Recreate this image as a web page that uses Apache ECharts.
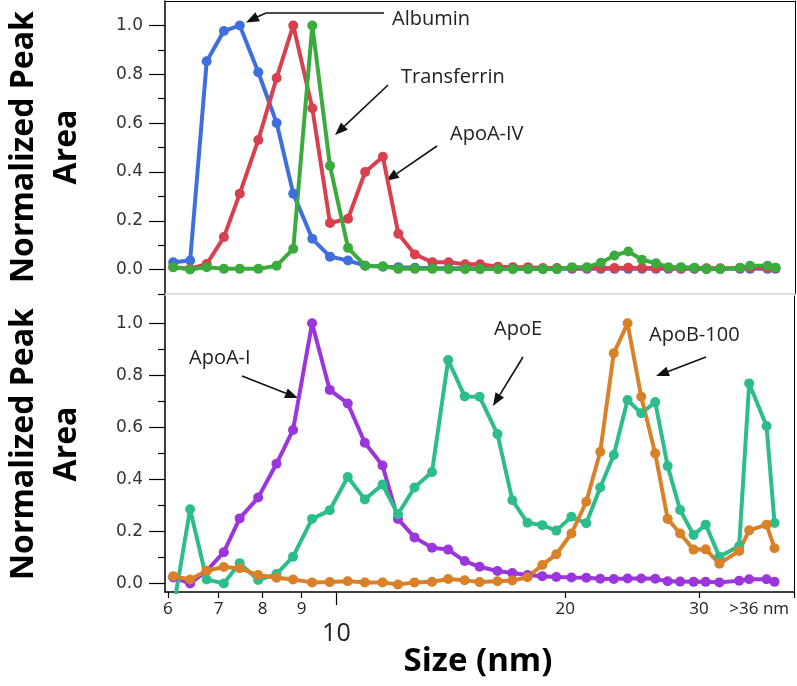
<!DOCTYPE html>
<html>
<head>
<meta charset="utf-8">
<script src="https://cdn.jsdelivr.net/npm/echarts@6/dist/echarts.min.js"></script>
<style>
html,body{margin:0;padding:0;background:#fff;}
#chart{width:797px;height:686px;}
</style>
</head>
<body>
<div id="chart"></div>
<script>
// ---- data (size in nm, normalized peak area) ----
const sizes = [6.10, 6.42, 6.75, 7.11, 7.46, 7.89, 8.34, 8.77, 9.29, 9.80,
  10.35, 10.90, 11.50, 12.05, 12.67, 13.36, 14.03, 14.75, 15.43, 16.29,
  17.04, 17.84, 18.66, 19.47, 20.38, 21.32, 22.24, 23.17, 24.16, 25.18,
  26.27, 27.28, 28.33, 29.51, 30.61, 31.91, 33.88, 34.92, 36.81, 37.71];

const albumin = [0.030, 0.037, 0.853, 0.977, 1.000, 0.808, 0.600, 0.311, 0.126, 0.053,
  0.037, 0.016, 0.012, 0.010, 0.008, 0.006, 0.005, 0.005, 0.004, 0.004,
  0.004, 0.003, 0.003, 0.003, 0.003, 0.003, 0.003, 0.003, 0.003, 0.003,
  0.003, 0.003, 0.003, 0.003, 0.003, 0.003, 0.003, 0.003, 0.003, 0.003];

const apoA4 = [0.010, 0.003, 0.023, 0.133, 0.311, 0.531, 0.785, 1.000, 0.661, 0.191,
  0.208, 0.400, 0.462, 0.147, 0.062, 0.030, 0.030, 0.022, 0.022, 0.012,
  0.010, 0.010, 0.006, 0.006, 0.006, 0.006, 0.006, 0.006, 0.008, 0.006,
  0.006, 0.006, 0.005, 0.005, 0.005, 0.005, 0.006, 0.008, 0.006, 0.005];

const transferrin = [0.010, 0.000, 0.010, 0.003, 0.003, 0.003, 0.016, 0.085, 1.000, 0.425,
  0.089, 0.016, 0.014, 0.003, 0.003, 0.003, 0.002, 0.002, 0.002, 0.002,
  0.002, 0.002, 0.002, 0.002, 0.010, 0.010, 0.028, 0.058, 0.074, 0.040,
  0.026, 0.010, 0.010, 0.008, 0.002, 0.002, 0.008, 0.016, 0.016, 0.008];

const apoA1 = [0.023, 0.000, 0.048, 0.120, 0.250, 0.330, 0.460, 0.590, 1.000, 0.744,
  0.692, 0.541, 0.453, 0.248, 0.177, 0.137, 0.130, 0.086, 0.064, 0.048,
  0.040, 0.032, 0.028, 0.025, 0.023, 0.022, 0.018, 0.017, 0.019, 0.019,
  0.018, 0.008, 0.007, 0.006, 0.006, 0.004, 0.010, 0.016, 0.016, 0.006];

const apoE = [-0.100, 0.285, 0.015, 0.000, 0.078, 0.013, 0.036, 0.103, 0.248, 0.281,
  0.409, 0.323, 0.380, 0.266, 0.369, 0.428, 0.859, 0.719, 0.718, 0.574,
  0.320, 0.233, 0.224, 0.203, 0.256, 0.231, 0.369, 0.494, 0.705, 0.654,
  0.697, 0.451, 0.282, 0.186, 0.226, 0.103, 0.144, 0.769, 0.605, 0.232];

const apoB100 = [0.028, 0.015, 0.049, 0.063, 0.058, 0.032, 0.022, 0.015, 0.004, 0.005,
  0.008, 0.004, 0.004, -0.004, 0.004, 0.006, 0.017, 0.012, 0.005, 0.008,
  0.011, 0.024, 0.071, 0.112, 0.192, 0.314, 0.506, 0.885, 1.000, 0.718,
  0.500, 0.248, 0.192, 0.130, 0.131, 0.076, 0.125, 0.204, 0.226, 0.135];

const xTickValues = [6, 7, 8, 9, 20, 30];
const xLabelValues = [6, 7, 8, 9, 20, 30, 36];
const xMajorTick = [10];
const yLabelValues = [0, 0.2, 0.4, 0.6, 0.8, 1.0];
const yMinorTop = [-0.1, 0.1, 0.3, 0.5, 0.7, 0.9];
const yMinorBottom = [0.1, 0.3, 0.5, 0.7, 0.9];

// ---- chart ----
const X_MIN = 5.95, X_MAX = 40;
const pair = (ys) => sizes.map((s, i) => [s, ys[i]]);

function lineSeries(name, ys, color, axisIdx) {
  return {
    name, type: 'line', data: pair(ys),
    xAxisIndex: axisIdx, yAxisIndex: axisIdx,
    symbol: 'circle', symbolSize: 10, showSymbol: true, showAllSymbol: true,
    clip: true,
    lineStyle: { color, width: 4 },
    itemStyle: { color, borderWidth: 0 },
    emphasis: { disabled: true },
    animation: false
  };
}

const blank = { show: false };
function logX(grid, pos, lineColor, extra) {
  return Object.assign({
    gridIndex: grid, type: 'log', logBase: 10, min: X_MIN, max: X_MAX, position: pos,
    axisLine: { show: true, onZero: false, lineStyle: { color: lineColor, width: 1.5 } },
    axisTick: blank, axisLabel: blank, splitLine: blank, minorTick: blank
  }, extra || {});
}
function valY(grid, pos, min, max, extra) {
  return Object.assign({
    gridIndex: grid, type: 'value', min, max, position: pos,
    axisLine: { show: true, onZero: false, lineStyle: { color: '#000', width: 1.5 } },
    axisTick: blank, axisLabel: blank, splitLine: blank
  }, extra || {});
}
const yLabel = {
  customValues: yLabelValues, margin: 22, fontSize: 17, color: '#333',
  fontFamily: 'DejaVu Sans', formatter: v => Number(v).toFixed(1)
};
const yTick = { show: true, customValues: yLabelValues, length: 16, inside: false, lineStyle: { color: '#000', width: 1.2 } };

function arrow(x1, y1, x2, y2) {
  const a = Math.atan2(y2 - y1, x2 - x1), L = 13, W = 5;
  const bx = x2 - L * Math.cos(a), by = y2 - L * Math.sin(a);
  const px = -Math.sin(a) * W, py = Math.cos(a) * W;
  return [
    { type: 'line', shape: { x1, y1, x2: bx, y2: by }, style: { stroke: '#111', lineWidth: 1.6 } },
    { type: 'polygon', shape: { points: [[x2, y2], [bx + px, by + py], [bx - px, by - py]] }, style: { fill: '#111' } }
  ];
}
function label(text, x, y) {
  return { type: 'text', x, y, style: { text, font: '20px "Open Sans"', fill: '#222', textAlign: 'left', textVerticalAlign: 'middle' } };
}
function vtitle(text, x, y) {
  return { type: 'text', x, y, rotation: Math.PI / 2,
    style: { text, font: 'bold 32px "Open Sans"', fill: '#000', textAlign: 'center', textVerticalAlign: 'middle' } };
}

const graphics = [].concat(
  [{ type: 'polyline', shape: { points: [[384, 13], [266, 13], [256, 17.5]] }, style: { stroke: '#111', lineWidth: 1.6, fill: null } }],
  arrow(256, 17.5, 246, 22.5),
  arrow(388, 85, 335, 135),
  arrow(437, 146, 386, 181),
  arrow(242, 376, 298, 398),
  arrow(523, 357, 493, 406),
  arrow(706, 357, 656, 376),
  [
    label('Albumin', 392, 19),
    label('Transferrin', 401, 77),
    label('ApoA-IV', 450, 134),
    label('ApoA-I', 189, 358),
    label('ApoE', 494, 329),
    label('ApoB-100', 649, 335),
    vtitle('Normalized Peak', 24, 147),
    vtitle('Area', 67, 147),
    vtitle('Normalized Peak', 24, 444),
    vtitle('Area', 67, 444),
    { type: 'text', x: 478, y: 662, style: { text: 'Size (nm)', font: 'bold 33px "Open Sans"', fill: '#000', textAlign: 'center', textVerticalAlign: 'middle' } }
  ]
);

const option = {
  backgroundColor: '#fff',
  animation: false,
  grid: [
    { left: 165, top: 1, width: 630, height: 293 },
    { left: 165, top: 296, width: 629, height: 296 }
  ],
  xAxis: [
    logX(0, 'bottom', '#d4d4d4'),
    logX(0, 'top', '#000', { axisLine: { show: true, onZero: false, lineStyle: { color: '#000', width: 1 } } }),
    logX(1, 'bottom', '#000', {
      axisTick: { show: true, customValues: xTickValues.concat([39.99]), length: 6, lineStyle: { color: '#000', width: 1.2 } },
      axisLabel: {
        show: true, customValues: xLabelValues, margin: 9, fontSize: 17, color: '#222', fontFamily: 'Open Sans',
        formatter: v => (v > 35 ? '>36 nm' : String(Math.round(v)))
      }
    }),
    logX(1, 'bottom', '#000', {
      axisLine: { show: false, onZero: false },
      axisTick: { show: true, customValues: xMajorTick, length: 13, lineStyle: { color: '#000', width: 1.2 } },
      axisLabel: { show: true, customValues: xMajorTick, margin: 29, fontSize: 25, color: '#222', fontFamily: 'Open Sans', formatter: v => String(Math.round(v)) }
    })
  ],
  yAxis: [
    valY(0, 'left', -0.1, 1.1, { axisTick: yTick, axisLabel: yLabel }),
    valY(0, 'right', -0.1, 1.1, { axisLine: { show: true, onZero: false, lineStyle: { color: '#000', width: 1 } } }),
    valY(1, 'left', -0.033, 1.105, { axisTick: yTick, axisLabel: yLabel }),
    valY(1, 'right', -0.033, 1.105, { axisLine: { show: true, onZero: false, lineStyle: { color: '#000', width: 1 } } }),
    valY(0, 'left', -0.1, 1.1, { axisLine: { show: false, onZero: false }, axisTick: { show: true, customValues: yMinorTop, length: 7, lineStyle: { color: '#000', width: 1.2 } } }),
    valY(1, 'left', -0.033, 1.105, { axisLine: { show: false, onZero: false }, axisTick: { show: true, customValues: yMinorBottom, length: 7, lineStyle: { color: '#000', width: 1.2 } } })
  ],
  series: [
    lineSeries('Albumin', albumin, '#3f6fdc', 0),
    lineSeries('ApoA-IV', apoA4, '#d8404f', 0),
    lineSeries('Transferrin', transferrin, '#3aab3c', 0),
    lineSeries('ApoA-I', apoA1, '#9b35dc', 2),
    lineSeries('ApoE', apoE, '#2dbd8c', 2),
    lineSeries('ApoB-100', apoB100, '#d98128', 2)
  ],
  graphic: graphics
};

const chart = echarts.init(document.getElementById('chart'), null, { renderer: 'canvas' });
chart.setOption(option);
</script>
</body>
</html>
